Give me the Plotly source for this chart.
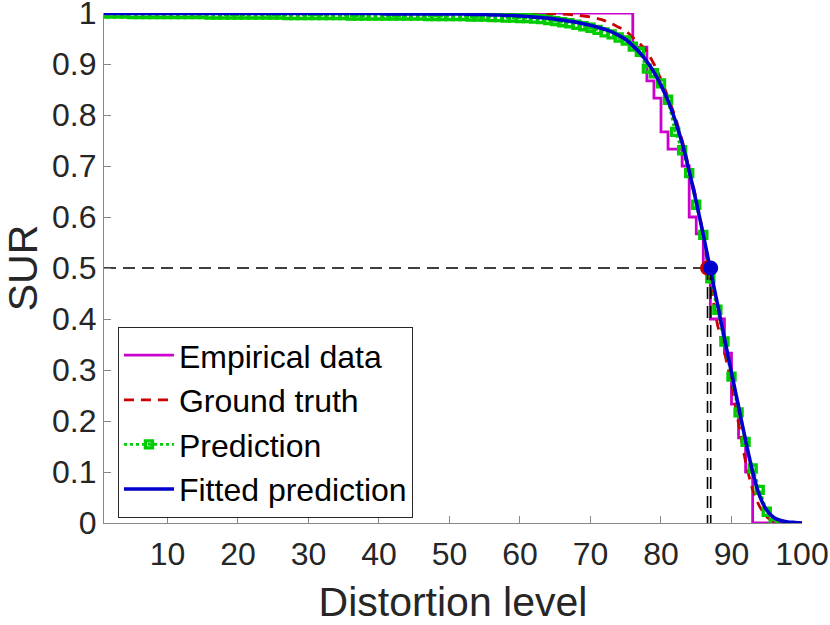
import plotly.graph_objects as go

"""
SUR curve: empirical vs ground truth vs predicted vs fitted
"""

# empirical survival (step function, 30 samples)
emp_x = [1, 76, 78, 79, 80, 81, 83, 84, 85, 86, 87, 89, 90, 91, 92, 93, 100]
emp_y = [1.0, 0.933, 0.867, 0.833, 0.767, 0.733, 0.700, 0.600, 0.567, 0.500,
         0.400, 0.333, 0.233, 0.167, 0.100, 0.0, 0.0]

# ground truth SUR curve
gt_x = [1, 60, 62, 64, 66, 68, 70, 71, 72, 73, 74, 75, 76, 77, 78, 79, 80,
        81, 82, 83, 84, 85, 86, 87, 88, 89, 90, 91, 92, 93, 94, 95, 96, 97, 100]
gt_y = [1.0, 1.0, 1.0, 0.999, 0.998, 0.996, 0.992, 0.989, 0.985, 0.979, 0.972,
        0.965, 0.952, 0.940, 0.924, 0.900, 0.870, 0.835, 0.797, 0.750, 0.695,
        0.635, 0.565, 0.468, 0.390, 0.335, 0.272, 0.195, 0.120, 0.065, 0.032,
        0.012, 0.003, 0.0, 0.0]

# predicted SUR at each distortion level 1..96
pred_x = list(range(1, 97))
pred_y = [0.999, 0.999, 0.999, 0.999, 0.998, 0.998, 0.998, 0.998, 0.998, 0.998,
          0.998, 0.998, 0.998, 0.998, 0.998, 0.997, 0.997, 0.997, 0.997, 0.997,
          0.997, 0.997, 0.997, 0.997, 0.997, 0.997, 0.996, 0.996, 0.996, 0.996,
          0.996, 0.996, 0.996, 0.996, 0.996, 0.995, 0.995, 0.995, 0.995, 0.995,
          0.995, 0.995, 0.995, 0.995, 0.995, 0.995, 0.994, 0.994, 0.994, 0.994,
          0.994, 0.994, 0.993, 0.993, 0.993, 0.992, 0.992, 0.991, 0.991, 0.990,
          0.990, 0.989, 0.988, 0.986, 0.984, 0.982, 0.980, 0.977, 0.974, 0.971,
          0.967, 0.962, 0.958, 0.952, 0.946, 0.934, 0.924, 0.891, 0.882, 0.862,
          0.830, 0.767, 0.731, 0.686, 0.624, 0.565, 0.480, 0.418, 0.356, 0.287,
          0.217, 0.159, 0.107, 0.065, 0.022, 0.0]

# fitted prediction curve at each level 1..100
fit_x = list(range(1, 101))
fit_y = [0.999, 0.999, 0.999, 0.999, 0.999, 0.999, 0.999, 0.999, 0.999, 0.999,
         0.999, 0.999, 0.999, 0.999, 0.999, 0.999, 0.999, 0.999, 0.999, 0.999,
         0.999, 0.999, 0.999, 0.999, 0.999, 0.999, 0.999, 0.999, 0.999, 0.999,
         0.999, 0.999, 0.999, 0.999, 0.999, 0.999, 0.999, 0.999, 0.999, 0.999,
         0.998, 0.998, 0.998, 0.998, 0.998, 0.998, 0.998, 0.998, 0.998, 0.998,
         0.998, 0.998, 0.997, 0.997, 0.997, 0.996, 0.996, 0.995, 0.995, 0.994,
         0.993, 0.992, 0.991, 0.990, 0.988, 0.986, 0.984, 0.982, 0.979, 0.976,
         0.972, 0.968, 0.963, 0.956, 0.948, 0.936, 0.922, 0.905, 0.884, 0.858,
         0.828, 0.790, 0.745, 0.690, 0.630, 0.565, 0.497, 0.430, 0.362, 0.295,
         0.228, 0.162, 0.100, 0.053, 0.025, 0.011, 0.005, 0.002, 0.001, 0.0]

threshold = 0.5
gt_x50 = 86.6
fit_x50 = 87.05

x_ticks = [10, 20, 30, 40, 50, 60, 70, 80, 90, 100]
y_ticks = [0, 0.1, 0.2, 0.3, 0.4, 0.5, 0.6, 0.7, 0.8, 0.9, 1]
y_labels = ['0', '0.1', '0.2', '0.3', '0.4', '0.5', '0.6', '0.7', '0.8', '0.9', '1']

FONT = 'Liberation Sans, Arial, sans-serif'
TXT = '#262626'
AXC = '#878787'

fig = go.Figure()

fig.add_trace(go.Scatter(
    x=emp_x, y=emp_y, mode='lines', name='Empirical data',
    line=dict(color='#CC00CC', width=2.8, shape='hv')
))
fig.add_trace(go.Scatter(
    x=gt_x, y=gt_y, mode='lines', name='Ground truth',
    line=dict(color='#CC0000', width=2.8, dash='10px,7px', shape='spline', smoothing=0.6)
))
fig.add_trace(go.Scatter(
    x=pred_x, y=pred_y, mode='lines+markers', name='Prediction',
    line=dict(color='#00CC00', width=2.8, dash='dot'),
    marker=dict(symbol='square-open', size=7, color='#00CC00', line=dict(width=3.4, color='#00CC00'))
))
fig.add_trace(go.Scatter(
    x=fit_x, y=fit_y, mode='lines', name='Fitted prediction',
    line=dict(color='#0000CC', width=3.6, shape='spline', smoothing=0.6)
))

# 50% guides
fig.add_trace(go.Scatter(
    x=[fit_x[0], gt_x50], y=[threshold, threshold], mode='lines', showlegend=False,
    line=dict(color='black', width=1.6, dash='12px,7px')
))
for xv in [gt_x50, fit_x50]:
    fig.add_trace(go.Scatter(
        x=[xv, xv], y=[threshold, 0], mode='lines', showlegend=False,
        line=dict(color='black', width=1.6, dash='12px,7px')
    ))
fig.add_trace(go.Scatter(
    x=[gt_x50], y=[threshold], mode='markers', showlegend=False,
    marker=dict(size=15, color='#CC0000')
))
fig.add_trace(go.Scatter(
    x=[fit_x50], y=[threshold], mode='markers', showlegend=False,
    marker=dict(size=15, color='#0000CC')
))

fig.update_layout(
    width=830, height=625,
    margin=dict(l=104, r=28, t=13, b=102),
    plot_bgcolor='white', paper_bgcolor='white',
    font=dict(family=FONT, color=TXT),
    showlegend=True,
    legend=dict(
        x=0.02, y=0.01, xanchor='left', yanchor='bottom',
        bgcolor='white', bordercolor=TXT, borderwidth=1,
        font=dict(size=32, color='black', family=FONT),
        tracegroupgap=0, itemwidth=50
    )
)

fig.update_xaxes(
    range=[1, 100], tickvals=x_ticks, ticks='inside', ticklen=7, tickcolor=AXC,
    showline=True, linecolor=AXC, linewidth=1.2, showgrid=False, zeroline=False,
    tickfont=dict(size=32, color=TXT), ticklabelstandoff=2, automargin=False,
    ticklabeloverflow='allow',
    title=dict(text='Distortion level', font=dict(size=41, color=TXT), standoff=18)
)
fig.update_yaxes(
    range=[0, 1], tickvals=y_ticks, ticktext=y_labels, ticks='inside', ticklen=7,
    tickcolor=AXC, showline=True, linecolor=AXC, linewidth=1.2, showgrid=False,
    zeroline=False, tickfont=dict(size=32, color=TXT), ticklabelstandoff=0,
    automargin=False, ticklabeloverflow='allow',
    title=dict(text='SUR', font=dict(size=41, color=TXT), standoff=4)
)

# drop the default page margin so the figure sits at the window's corner
fig.write_html("out.html", config={'displayModeBar': False},
               post_script="document.body.style.margin='0';")
